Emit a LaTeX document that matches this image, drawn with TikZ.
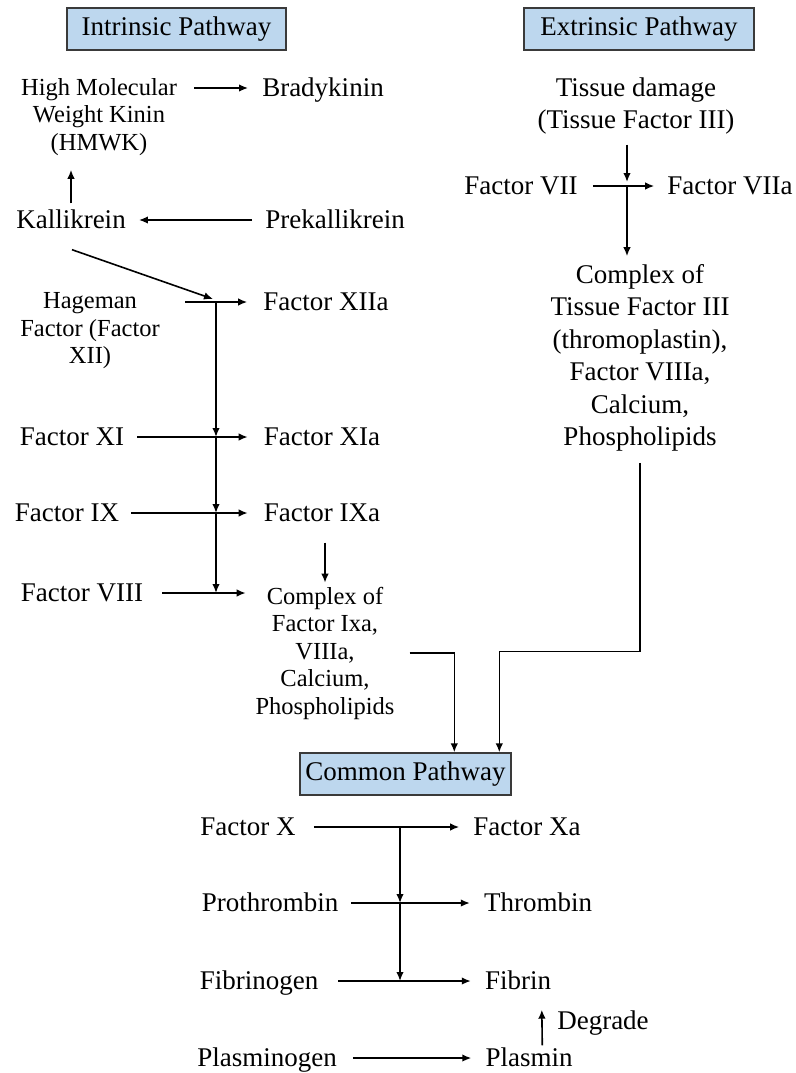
\documentclass[tikz,border=0pt]{standalone}
\usepackage{fontspec}
\setmainfont{Liberation Serif}
\usetikzlibrary{arrows.meta,calc}
\definecolor{boxblue}{HTML}{BDD7EE}
\definecolor{boxedge}{HTML}{3A3A3A}
\begin{document}
\begin{tikzpicture}[x=1pt,y=-1pt,
  lbl/.style={font=\fontsize{27}{32}\selectfont, inner sep=0pt, text height=19pt, text depth=6pt},
  mlbl/.style={font=\fontsize{27}{32.5}\selectfont, inner sep=0pt, align=center},
  sml/.style={font=\fontsize{24.5}{27.5}\selectfont, inner sep=0pt, align=center},
  titlebox/.style={draw=boxedge, line width=1.4pt, fill=boxblue, font=\fontsize{27}{32}\selectfont, minimum height=42pt, inner sep=0pt},
  arr/.style={-{Latex[length=9pt,width=7.5pt]}, line width=1.6pt},
  ln/.style={line width=1.6pt}]
\useasboundingbox[fill=white] (0,0) rectangle (795,1073);

% titles
\node[titlebox, minimum width=219pt] (intr) at (176.5,29) {Intrinsic Pathway};
\node[titlebox, minimum width=230pt] (extr) at (639,29) {Extrinsic Pathway};
\node[titlebox, minimum width=211pt] (comm) at (405.5,774) {Common Pathway};

% intrinsic
\node[sml] (hmwk) at (99,117) {High Molecular\\Weight Kinin\\(HMWK)};
\node[lbl] (brady) at (323,90) {Bradykinin};
\node[lbl] (kall) at (71,222) {Kallikrein};
\node[lbl] (prek) at (335,222) {Prekallikrein};
\node[sml] (hag) at (90,331) {Hageman\\Factor (Factor\\XII)};
\node[lbl] (f12a) at (326,304) {Factor XIIa};
\node[lbl] (f11) at (72,439) {Factor XI};
\node[lbl] (f11a) at (322,439) {Factor XIa};
\node[lbl] (f9) at (67,515) {Factor IX};
\node[lbl] (f9a) at (322,515) {Factor IXa};
\node[lbl] (f8) at (82,595) {Factor VIII};
\node[sml] (cx9) at (325,653) {Complex of\\Factor Ixa,\\VIIIa,\\Calcium,\\Phospholipids};

\coordinate (j12) at (216,302);
\coordinate (j11) at (216,437);
\coordinate (j9) at (216,513);
\coordinate (j8) at (216,593);

\draw[arr] ($(hmwk.east|-j12)+(17,-214)$) -- ($(brady.west|-j12)+(-14,-214)$);
\draw[arr] ($(kall.north)+(0,-6)$) -- ($(kall.north|-hmwk.south)+(0,14)$);
\draw[arr] ($(prek.west|-j12)+(-13,-82)$) -- ($(kall.east|-j12)+(13,-82)$);
\draw[arr] ($(kall.south)+(1,15)$) -- ($(j12)+(-3,-3)$);
\draw[arr] ($(j12)+(-31,0)$) -- ($(f12a.west|-j12)+(-16,0)$);
\draw[arr] (j12) -- (j11);
\draw[arr] (j11) -- (j9);
\draw[arr] (j9) -- (j8);
\draw[arr] ($(f11.east|-j11)+(13,0)$) -- ($(f11a.west|-j11)+(-16,0)$);
\draw[arr] ($(f9.east|-j9)+(12,0)$) -- ($(f9a.west|-j9)+(-16,0)$);
\draw[arr] ($(f8.east|-j8)+(19,0)$) -- ($(f11a.west|-j8)+(-18,0)$);
\draw[arr] ($(f9a.south)+(3,15)$) -- ($(f9a.south)+(3,55)$);
\draw[arr] ($(cx9.east)+(15,0)$) -| ($(comm.north west)+(155,0)$);

% extrinsic
\node[mlbl] (tis) at (636,106) {Tissue damage\\(Tissue Factor III)};
\node[lbl] (f7) at (521,188) {Factor VII};
\node[lbl] (f7a) at (730,188) {Factor VIIa};
\node[mlbl] (cx3) at (640,358) {Complex of\\Tissue Factor III\\(thromoplastin),\\Factor VIIIa,\\Calcium,\\Phospholipids};
\coordinate (j7) at (627,186);

\draw[arr] ($(j7|-tis.south)+(0,10)$) -- ($(j7)+(0,-4)$);
\draw[arr] ($(f7.east|-j7)+(15,0)$) -- ($(f7a.west|-j7)+(-13,0)$);
\draw[arr] (j7) -- ($(cx3.north-|j7)+(0,-8)$);
\draw[arr] ($(cx3.south)+(0,11)$) |- ($(comm.north west)+(200,-101)$) -- ($(comm.north west)+(200,0)$);

% common
\node[lbl] (fx) at (248,829) {Factor X};
\node[lbl] (fxa) at (527,829) {Factor Xa};
\node[lbl] (proth) at (270,905) {Prothrombin};
\node[lbl] (thromb) at (538,905) {Thrombin};
\node[lbl] (fibg) at (259,983) {Fibrinogen};
\node[lbl] (fibrin) at (518,983) {Fibrin};
\node[lbl] (plg) at (267,1060) {Plasminogen};
\node[lbl] (plasmin) at (529,1060) {Plasmin};
\node[lbl] (degr) at (603,1023) {Degrade};

\coordinate (jx) at (400,827);
\coordinate (jp) at (400,903);
\coordinate (jf) at (400,981);

\draw[arr] ($(fx.east|-jx)+(18,0)$) -- ($(fxa.west|-jx)+(-14,0)$);
\draw[arr] (jx) -- (jp);
\draw[arr] (jp) -- (jf);
\draw[arr] ($(proth.east|-jp)+(13,0)$) -- ($(thromb.west|-jp)+(-14,0)$);
\draw[arr] ($(fibg.east|-jf)+(20,0)$) -- ($(fibrin.west|-jf)+(-14,0)$);
\draw[arr] ($(plg.east|-plasmin.west)+(16,-2)$) -- ($(plasmin.west)+(-14,-2)$);
\draw[arr] ($(plasmin.north west)+(57,-2)$) -- ($(fibrin.south west)+(57,14)$);
\end{tikzpicture}
\end{document}
